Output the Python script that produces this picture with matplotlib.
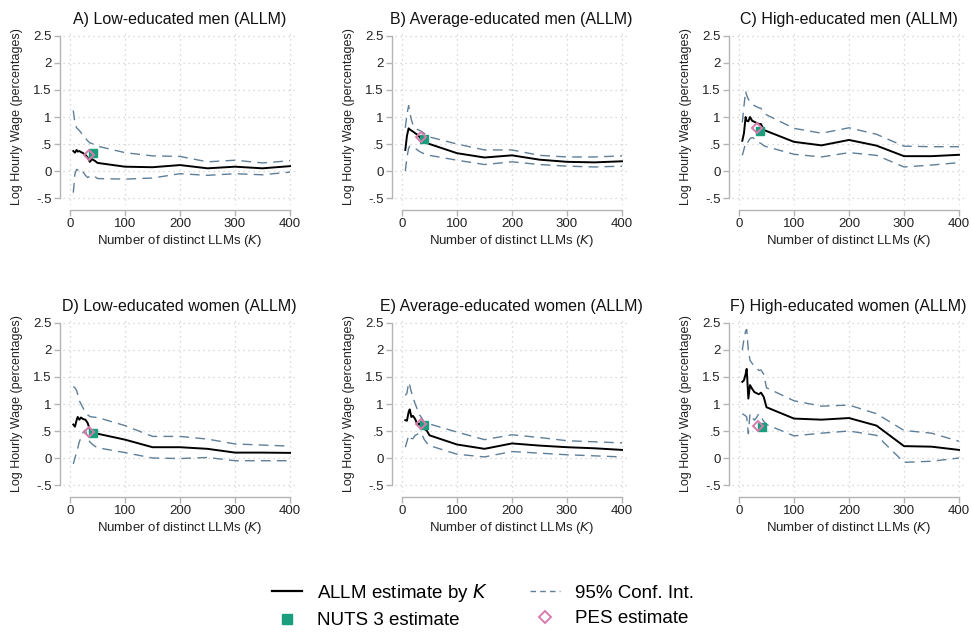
import matplotlib
matplotlib.use("Agg")
import matplotlib.pyplot as plt
from matplotlib.lines import Line2D
import numpy as np

plt.rcParams['font.family'] = ['Liberation Sans', 'DejaVu Sans']

K = [6, 9, 12, 14, 17, 20, 24, 28, 32, 36, 40, 45, 50, 100, 150, 200, 250, 300, 350, 400]

titles = ["A) Low-educated men (ALLM)", "B) Average-educated men (ALLM)", "C) High-educated men (ALLM)",
          "D) Low-educated women (ALLM)", "E) Average-educated women (ALLM)", "F) High-educated women (ALLM)"]

est_A = [0.37, 0.34, 0.39, 0.36, 0.37, 0.35, 0.33, 0.30, 0.25, 0.17, 0.22, 0.19, 0.15, 0.08, 0.07, 0.11, 0.05, 0.08, 0.05, 0.09]
hi_A = [1.12, 0.88, 0.80, 0.78, 0.75, 0.71, 0.66, 0.61, 0.56, 0.52, 0.51, 0.48, 0.46, 0.34, 0.28, 0.27, 0.17, 0.20, 0.15, 0.19]
lo_A = [-0.40, -0.05, 0.03, 0.02, -0.01, -0.05, -0.02, -0.08, -0.12, -0.10, -0.08, -0.10, -0.14, -0.15, -0.13, -0.05, -0.08, -0.05, -0.07, -0.02]

est_B = [0.39, 0.65, 0.79, 0.77, 0.75, 0.73, 0.70, 0.67, 0.63, 0.58, 0.55, 0.52, 0.50, 0.33, 0.25, 0.29, 0.21, 0.17, 0.16, 0.18]
hi_B = [0.80, 1.05, 1.21, 1.10, 0.95, 0.85, 0.80, 0.77, 0.75, 0.73, 0.70, 0.66, 0.63, 0.50, 0.39, 0.39, 0.29, 0.26, 0.26, 0.28]
lo_B = [0.00, 0.25, 0.42, 0.46, 0.45, 0.43, 0.42, 0.39, 0.36, 0.34, 0.32, 0.30, 0.29, 0.20, 0.12, 0.17, 0.12, 0.09, 0.075, 0.09]

est_C = [0.56, 0.70, 1.00, 0.93, 0.92, 1.00, 0.93, 0.91, 0.89, 0.87, 0.87, 0.76, 0.74, 0.54, 0.475, 0.575, 0.47, 0.275, 0.275, 0.30]
hi_C = [0.90, 1.20, 1.48, 1.40, 1.33, 1.28, 1.24, 1.21, 1.19, 1.17, 1.16, 1.08, 1.04, 0.79, 0.70, 0.80, 0.68, 0.46, 0.45, 0.45]
lo_C = [0.29, 0.40, 0.52, 0.50, 0.55, 0.60, 0.62, 0.60, 0.56, 0.53, 0.51, 0.47, 0.45, 0.31, 0.26, 0.34, 0.29, 0.075, 0.11, 0.155]

est_D = [0.62, 0.58, 0.70, 0.76, 0.71, 0.75, 0.72, 0.71, 0.65, 0.53, 0.49, 0.47, 0.45, 0.34, 0.20, 0.20, 0.17, 0.10, 0.10, 0.095]
hi_D = [1.32, 1.30, 1.25, 1.18, 1.06, 1.00, 0.92, 0.85, 0.80, 0.77, 0.76, 0.755, 0.75, 0.60, 0.40, 0.40, 0.35, 0.26, 0.24, 0.22]
lo_D = [-0.11, 0.00, 0.10, 0.18, 0.30, 0.38, 0.48, 0.52, 0.38, 0.30, 0.26, 0.22, 0.19, 0.10, 0.00, -0.01, 0.01, -0.05, -0.05, -0.05]

est_E = [0.70, 0.69, 0.85, 0.90, 0.76, 0.78, 0.72, 0.62, 0.64, 0.55, 0.54, 0.51, 0.42, 0.25, 0.17, 0.27, 0.23, 0.20, 0.18, 0.15]
hi_E = [1.16, 1.20, 1.40, 1.35, 1.22, 1.12, 1.00, 0.90, 0.80, 0.74, 0.67, 0.65, 0.63, 0.48, 0.34, 0.43, 0.38, 0.32, 0.30, 0.28]
lo_E = [0.20, 0.30, 0.42, 0.40, 0.36, 0.36, 0.42, 0.44, 0.47, 0.45, 0.35, 0.28, 0.23, 0.07, 0.02, 0.12, 0.09, 0.06, 0.04, 0.02]

est_F = [1.41, 1.44, 1.55, 1.65, 1.10, 1.35, 1.28, 1.22, 1.20, 1.18, 1.21, 1.13, 0.94, 0.73, 0.71, 0.74, 0.60, 0.22, 0.21, 0.15]
hi_F = [2.00, 2.20, 2.35, 2.38, 2.00, 1.81, 1.75, 1.70, 1.67, 1.62, 1.63, 1.55, 1.30, 1.06, 0.96, 0.98, 0.82, 0.51, 0.46, 0.31]
lo_F = [0.82, 0.80, 0.78, 0.76, 0.45, 0.82, 0.75, 0.70, 0.75, 0.82, 0.76, 0.68, 0.62, 0.41, 0.46, 0.50, 0.42, -0.08, -0.06, 0.00]

nuts_K = [41, 40, 39, 41, 40, 41]
nuts_y = [0.34, 0.59, 0.74, 0.47, 0.62, 0.57]
pes_K = [34, 34, 33, 35, 35, 35]
pes_y = [0.29, 0.625, 0.79, 0.48, 0.63, 0.59]

ests = [est_A, est_B, est_C, est_D, est_E, est_F]
his = [hi_A, hi_B, hi_C, hi_D, hi_E, hi_F]
los = [lo_A, lo_B, lo_C, lo_D, lo_E, lo_F]

yticks = [-0.5, 0, 0.5, 1, 1.5, 2, 2.5]
yticklabels = ["-.5", "0", ".5", "1", "1.5", "2", "2.5"]
xticks = [0, 100, 200, 300, 400]

W, H = 972, 632
fig = plt.figure(figsize=(W / 100, H / 100), dpi=100)

ci_col = "#5f7f98"
green = "#1a9e7c"
pink = "#d67cad"
spine_col = "#b4b4b4"
grid_col = "#cfcfcf"

xlim = (-12, 410)
ppu = 0.55
x0s = [70, 402, 739]
row_tops = [29.5, 316.5]
row_h = 175

for i in range(6):
    r, c = divmod(i, 3)
    left_px = x0s[c] - 12 * ppu
    width_px = (xlim[1] - xlim[0]) * ppu
    top = row_tops[r]
    ax = fig.add_axes([left_px / W, 1 - (top + row_h) / H, width_px / W, row_h / H])
    ax.set_xlim(*xlim)
    ax.set_ylim(-0.62, 2.62)
    for yv in yticks:
        ax.axhline(yv, color=grid_col, lw=0.9, ls=(0, (1, 3)), zorder=0)
    for xv in xticks:
        ax.axvline(xv, color=grid_col, lw=0.9, ls=(0, (1, 3)), zorder=0)
    ax.plot(K, his[i], color=ci_col, lw=1.0, ls=(0, (7, 4.5)), zorder=2)
    ax.plot(K, los[i], color=ci_col, lw=1.0, ls=(0, (7, 4.5)), zorder=2)
    ax.plot(K, ests[i], color="black", lw=1.4, zorder=3)
    ax.plot([nuts_K[i]], [nuts_y[i]], marker="s", ms=6, color=green, mec=green, ls="none", zorder=4)
    ax.plot([pes_K[i]], [pes_y[i]], marker="D", ms=5.5, mfc="none", mec=pink, mew=1.4, ls="none", zorder=5)
    for s in ["top", "right"]:
        ax.spines[s].set_visible(False)
    ax.spines["left"].set_position(("outward", 2.5))
    ax.spines["bottom"].set_position(("outward", 4))
    ax.spines["left"].set_bounds(-0.5, 2.5)
    ax.spines["bottom"].set_bounds(0, 400)
    for s in ["left", "bottom"]:
        ax.spines[s].set_color(spine_col)
        ax.spines[s].set_linewidth(1.0)
    ax.set_yticks(yticks)
    ax.set_yticklabels(yticklabels)
    ax.set_xticks(xticks)
    ax.tick_params(axis="both", colors=spine_col, labelcolor="#222222", labelsize=9.5, length=4, width=1.0, pad=2)
    ax.set_title(titles[i], fontsize=11.5, color="#111111", pad=4)
    ax.set_xlabel("Number of distinct LLMs ($K$)", fontsize=9.5, color="#222222", labelpad=2)
    ax.set_ylabel("Log Hourly Wage (percentages)", fontsize=9, color="#222222", labelpad=7)

handles = [
    Line2D([], [], color="black", lw=1.6),
    Line2D([], [], marker="s", ms=7, color=green, ls="none"),
    Line2D([], [], color=ci_col, lw=1.0, ls=(0, (4, 3))),
    Line2D([], [], marker="D", ms=6, mfc="none", mec=pink, mew=1.4, ls="none"),
]
labels = ["ALLM estimate by $K$", "NUTS 3 estimate", "95% Conf. Int.", "PES estimate"]
fig.legend(handles, labels, loc="center", bbox_to_anchor=(483 / W, 1 - 605.5 / H), ncol=2, frameon=False,
           fontsize=13.5, handlelength=1.6, handletextpad=0.8, columnspacing=2.2, labelspacing=0.45)

fig.savefig("out.png", dpi=100)
